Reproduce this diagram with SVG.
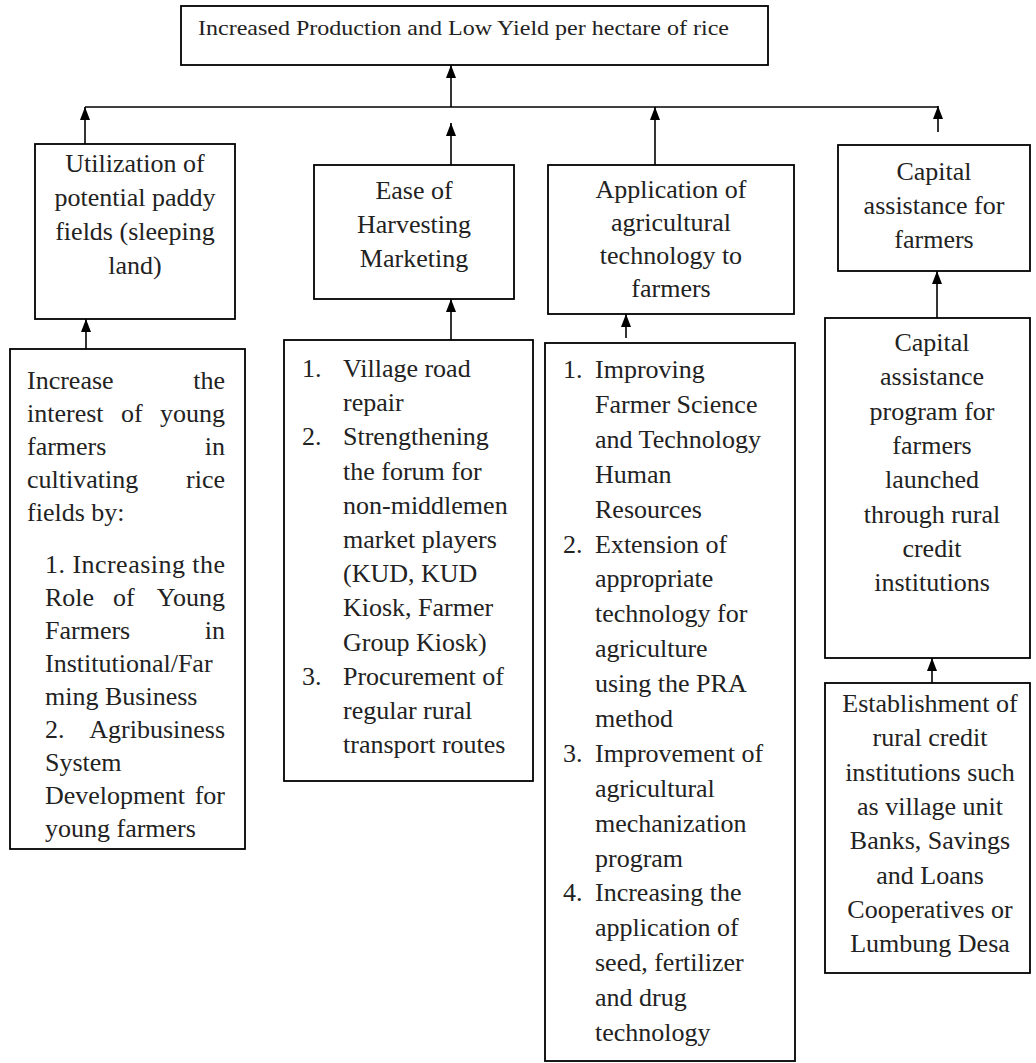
<svg xmlns="http://www.w3.org/2000/svg" width="1036" height="1063" viewBox="0 0 1036 1063">
<style>
rect.box{fill:#fff;stroke:#000;stroke-width:1.8}
text{font-family:"Liberation Serif","Times New Roman",serif;font-size:26px;fill:#222}
.c{text-anchor:middle}
.e{text-anchor:end}
.t{font-size:21px}
.conn line{stroke:#000;stroke-width:1.6}
</style>
<defs>
<marker id="ah" markerUnits="userSpaceOnUse" markerWidth="13" markerHeight="10" refX="13" refY="5" orient="auto" viewBox="0 0 13 10">
<path d="M0,0 L13,5 L0,10 Z" fill="#000"/>
</marker>
</defs>
<rect width="1036" height="1063" fill="#fff"/>

<g id="connectors" class="conn">
<line x1="451" y1="107" x2="451" y2="65" marker-end="url(#ah)"/>
<line x1="85" y1="107" x2="938" y2="107"/>
<line x1="85" y1="144" x2="85" y2="107" marker-end="url(#ah)"/>
<line x1="451" y1="165" x2="451" y2="123" marker-end="url(#ah)"/>
<line x1="655" y1="165" x2="655" y2="107" marker-end="url(#ah)"/>
<line x1="938" y1="132" x2="938" y2="106" marker-end="url(#ah)"/>
<line x1="86" y1="349" x2="86" y2="319" marker-end="url(#ah)"/>
<line x1="451" y1="340" x2="451" y2="299" marker-end="url(#ah)"/>
<line x1="626" y1="338" x2="626" y2="314" marker-end="url(#ah)"/>
<line x1="937" y1="318" x2="937" y2="271" marker-end="url(#ah)"/>
<line x1="932" y1="683" x2="932" y2="658" marker-end="url(#ah)"/>
</g>

<g id="n-top">
<rect class="box" x="181" y="6" width="587" height="59"/>
<text class="t" x="198" y="35" textLength="531" lengthAdjust="spacingAndGlyphs">Increased Production and Low Yield per hectare of rice</text>
</g>

<g id="n-utilization">
<rect class="box" x="35" y="144" width="200" height="175"/>
<text class="c" x="135" y="172">Utilization of</text>
<text class="c" x="135" y="206">potential paddy</text>
<text class="c" x="135" y="240">fields (sleeping</text>
<text class="c" x="135" y="274">land)</text>
</g>

<g id="n-ease">
<rect class="box" x="314" y="165" width="200" height="134"/>
<text class="c" x="414" y="199">Ease of</text>
<text class="c" x="414" y="233">Harvesting</text>
<text class="c" x="414" y="267">Marketing</text>
</g>

<g id="n-application">
<rect class="box" x="548" y="165" width="246" height="149"/>
<text class="c" x="671" y="198">Application of</text>
<text class="c" x="671" y="231">agricultural</text>
<text class="c" x="671" y="264">technology to</text>
<text class="c" x="671" y="297">farmers</text>
</g>

<g id="n-capital">
<rect class="box" x="838" y="145" width="192" height="126"/>
<text class="c" x="934" y="180">Capital</text>
<text class="c" x="934" y="214">assistance for</text>
<text class="c" x="934" y="248">farmers</text>
</g>

<g id="n-young">
<rect class="box" x="10" y="349" width="235" height="500"/>
<text x="27" y="389">Increase</text><text class="e" x="225" y="389">the</text>
<text x="27" y="422">interest</text><text x="121" y="422">of</text><text class="e" x="225" y="422">young</text>
<text x="27" y="455">farmers</text><text class="e" x="225" y="455">in</text>
<text x="27" y="488">cultivating</text><text class="e" x="225" y="488">rice</text>
<text x="27" y="521">fields by:</text>
<text x="45" y="573" textLength="180" lengthAdjust="spacing">1. Increasing the</text>
<text x="45" y="606">Role</text><text x="113" y="606">of</text><text class="e" x="225" y="606">Young</text>
<text x="45" y="639">Farmers</text><text class="e" x="225" y="639">in</text>
<text x="45" y="672">Institutional/Far</text>
<text x="45" y="705">ming Business</text>
<text x="45" y="738">2.</text><text class="e" x="225" y="738">Agribusiness</text>
<text x="45" y="771">System</text>
<text x="45" y="804">Development</text><text class="e" x="225" y="804">for</text>
<text x="45" y="837">young farmers</text>
</g>

<g id="n-ease-actions">
<rect class="box" x="284" y="340" width="249" height="441"/>
<text x="302" y="377">1.</text><text x="343" y="377">Village road</text>
<text x="343" y="411">repair</text>
<text x="302" y="445">2.</text><text x="343" y="445">Strengthening</text>
<text x="343" y="480">the forum for</text>
<text x="343" y="514">non-middlemen</text>
<text x="343" y="548">market players</text>
<text x="343" y="582">(KUD, KUD</text>
<text x="343" y="616">Kiosk, Farmer</text>
<text x="343" y="651">Group Kiosk)</text>
<text x="302" y="685">3.</text><text x="343" y="685">Procurement of</text>
<text x="343" y="719">regular rural</text>
<text x="343" y="753">transport routes</text>
</g>

<g id="n-tech-actions">
<rect class="box" x="545" y="343" width="250" height="718"/>
<text x="563" y="378">1.</text><text x="595" y="378">Improving</text>
<text x="595" y="413">Farmer Science</text>
<text x="595" y="448">and Technology</text>
<text x="595" y="483">Human</text>
<text x="595" y="518">Resources</text>
<text x="563" y="553">2.</text><text x="595" y="553">Extension of</text>
<text x="595" y="587">appropriate</text>
<text x="595" y="622">technology for</text>
<text x="595" y="657">agriculture</text>
<text x="595" y="692">using the PRA</text>
<text x="595" y="727">method</text>
<text x="563" y="762">3.</text><text x="595" y="762">Improvement of</text>
<text x="595" y="797">agricultural</text>
<text x="595" y="832">mechanization</text>
<text x="595" y="867">program</text>
<text x="563" y="901">4.</text><text x="595" y="901">Increasing the</text>
<text x="595" y="936">application of</text>
<text x="595" y="971">seed, fertilizer</text>
<text x="595" y="1006">and drug</text>
<text x="595" y="1041">technology</text>
</g>

<g id="n-capital-program">
<rect class="box" x="825" y="318" width="205" height="340"/>
<text class="c" x="932" y="351">Capital</text>
<text class="c" x="932" y="385">assistance</text>
<text class="c" x="932" y="420">program for</text>
<text class="c" x="932" y="454">farmers</text>
<text class="c" x="932" y="488">launched</text>
<text class="c" x="932" y="523">through rural</text>
<text class="c" x="932" y="557">credit</text>
<text class="c" x="932" y="591">institutions</text>
</g>

<g id="n-credit-institutions">
<rect class="box" x="825" y="683" width="205" height="290"/>
<text class="c" x="930" y="712">Establishment of</text>
<text class="c" x="930" y="746">rural credit</text>
<text class="c" x="930" y="781">institutions such</text>
<text class="c" x="930" y="815">as village unit</text>
<text class="c" x="930" y="849">Banks, Savings</text>
<text class="c" x="930" y="884">and Loans</text>
<text class="c" x="930" y="918">Cooperatives or</text>
<text class="c" x="930" y="952">Lumbung Desa</text>
</g>
</svg>
